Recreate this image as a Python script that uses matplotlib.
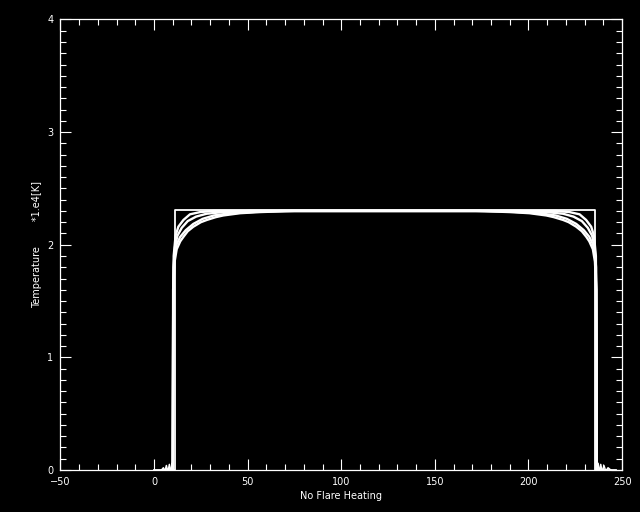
import matplotlib
matplotlib.use("Agg")
import matplotlib.pyplot as plt
from matplotlib.ticker import MultipleLocator

# Perfil de temperatura ao longo do loop
# degrau (condição inicial)
step_x = [0, 11.2, 11.2, 235.6, 235.6, 247]
step_y = [0, 0, 2.31, 2.31, 0, 0]

# curvas arredondadas (da mais baixa para a mais alta)
a_x = [10.0, 10.1, 10.3, 11.0, 12.1, 14.0, 15.7, 18.0, 21.0, 25.0, 28.2, 33.0, 37.0, 46.0, 56.6, 75.0,
       172.0, 190.0, 200.5, 209.5, 213.5, 218.5, 221.5, 225.5, 228.5, 230.9, 232.5, 234.4, 235.5, 236.2, 236.4, 236.5]
a_y = [0, 1.0, 1.6, 1.85, 1.96, 2.03, 2.07, 2.12, 2.16, 2.20, 2.22, 2.245, 2.26, 2.28, 2.29, 2.30,
       2.30, 2.29, 2.28, 2.26, 2.245, 2.22, 2.20, 2.16, 2.12, 2.07, 2.03, 1.96, 1.85, 1.6, 1.0, 0]

b_x = [10.0, 10.2, 10.8, 12.0, 14.0, 17.0, 21.0, 26.0, 32.0, 40.0, 55.0, 70.0,
       176.5, 191.5, 206.5, 214.5, 220.5, 225.5, 229.5, 232.5, 234.5, 235.7, 236.3, 236.5]
b_y = [0, 1.6, 1.88, 2.0, 2.07, 2.13, 2.185, 2.23, 2.26, 2.278, 2.293, 2.30,
       2.30, 2.293, 2.278, 2.26, 2.23, 2.185, 2.13, 2.07, 2.0, 1.88, 1.6, 0]

c_x = [10.0, 10.4, 11.2, 12.5, 14.8, 18.0, 22.5, 28.0, 37.0, 52.0,
       194.5, 209.5, 218.5, 224.0, 228.5, 231.7, 234.0, 235.3, 236.1, 236.5]
c_y = [0, 1.8, 1.98, 2.08, 2.15, 2.21, 2.25, 2.275, 2.29, 2.30,
       2.30, 2.29, 2.275, 2.25, 2.21, 2.15, 2.08, 1.98, 1.8, 0]

d_x = [10.0, 10.5, 11.5, 13.0, 15.7, 19.2, 24.6, 32.0,
       214.5, 221.9, 227.3, 230.8, 233.5, 235.0, 236.0, 236.5]
d_y = [0, 1.9, 2.08, 2.16, 2.22, 2.27, 2.29, 2.30,
       2.30, 2.29, 2.27, 2.22, 2.16, 2.08, 1.9, 0]

# ruído perto da base
noise_l_x = [4.0, 5.0, 5.8, 6.6, 7.4, 8.2, 9.0, 9.6, 10.0]
noise_l_y = [0, 0.02, -0.01, 0.04, -0.02, 0.05, -0.03, 0.06, 0]
noise_r_x = [236.5, 237.2, 237.9, 238.6, 239.4, 240.3, 241.3, 242.5, 244.0]
noise_r_y = [0, 0.06, -0.03, 0.05, -0.02, 0.04, -0.01, 0.02, 0]

arredondadas = [(a_x, a_y), (b_x, b_y), (c_x, c_y), (d_x, d_y)]
ruido = [(noise_l_x, noise_l_y), (noise_r_x, noise_r_y)]

fig = plt.figure(figsize=(6.4, 5.12), dpi=100, facecolor="black")
ax = fig.add_axes([0.0944, 0.082, 0.8776, 0.880])
ax.set_facecolor("black")

ax.plot(step_x, step_y, color="white", linewidth=1.3)
for xs, ys in arredondadas:
    ax.plot(xs, ys, color="white", linewidth=1.7)
for xs, ys in ruido:
    ax.plot(xs, ys, color="white", linewidth=1.1)

ax.set_xlim(-50, 250)
ax.set_ylim(0, 4)
ax.xaxis.set_major_locator(MultipleLocator(50))
ax.xaxis.set_minor_locator(MultipleLocator(10))
ax.yaxis.set_major_locator(MultipleLocator(1))
ax.yaxis.set_minor_locator(MultipleLocator(0.1))

for s in ax.spines.values():
    s.set_color("white")
    s.set_linewidth(0.9)

ax.tick_params(which="both", direction="in", colors="white", top=True, right=True,
               labelsize=7, width=0.8)
ax.tick_params(which="major", length=8, pad=5)
ax.tick_params(which="minor", length=4.3)

ax.set_xlabel("No Flare Heating", color="white", fontsize=7, labelpad=3)
ax.set_ylabel("Temperature        *1.e4[K]", color="white", fontsize=7, labelpad=4)

plt.savefig("out.png", dpi=100, facecolor="black")
